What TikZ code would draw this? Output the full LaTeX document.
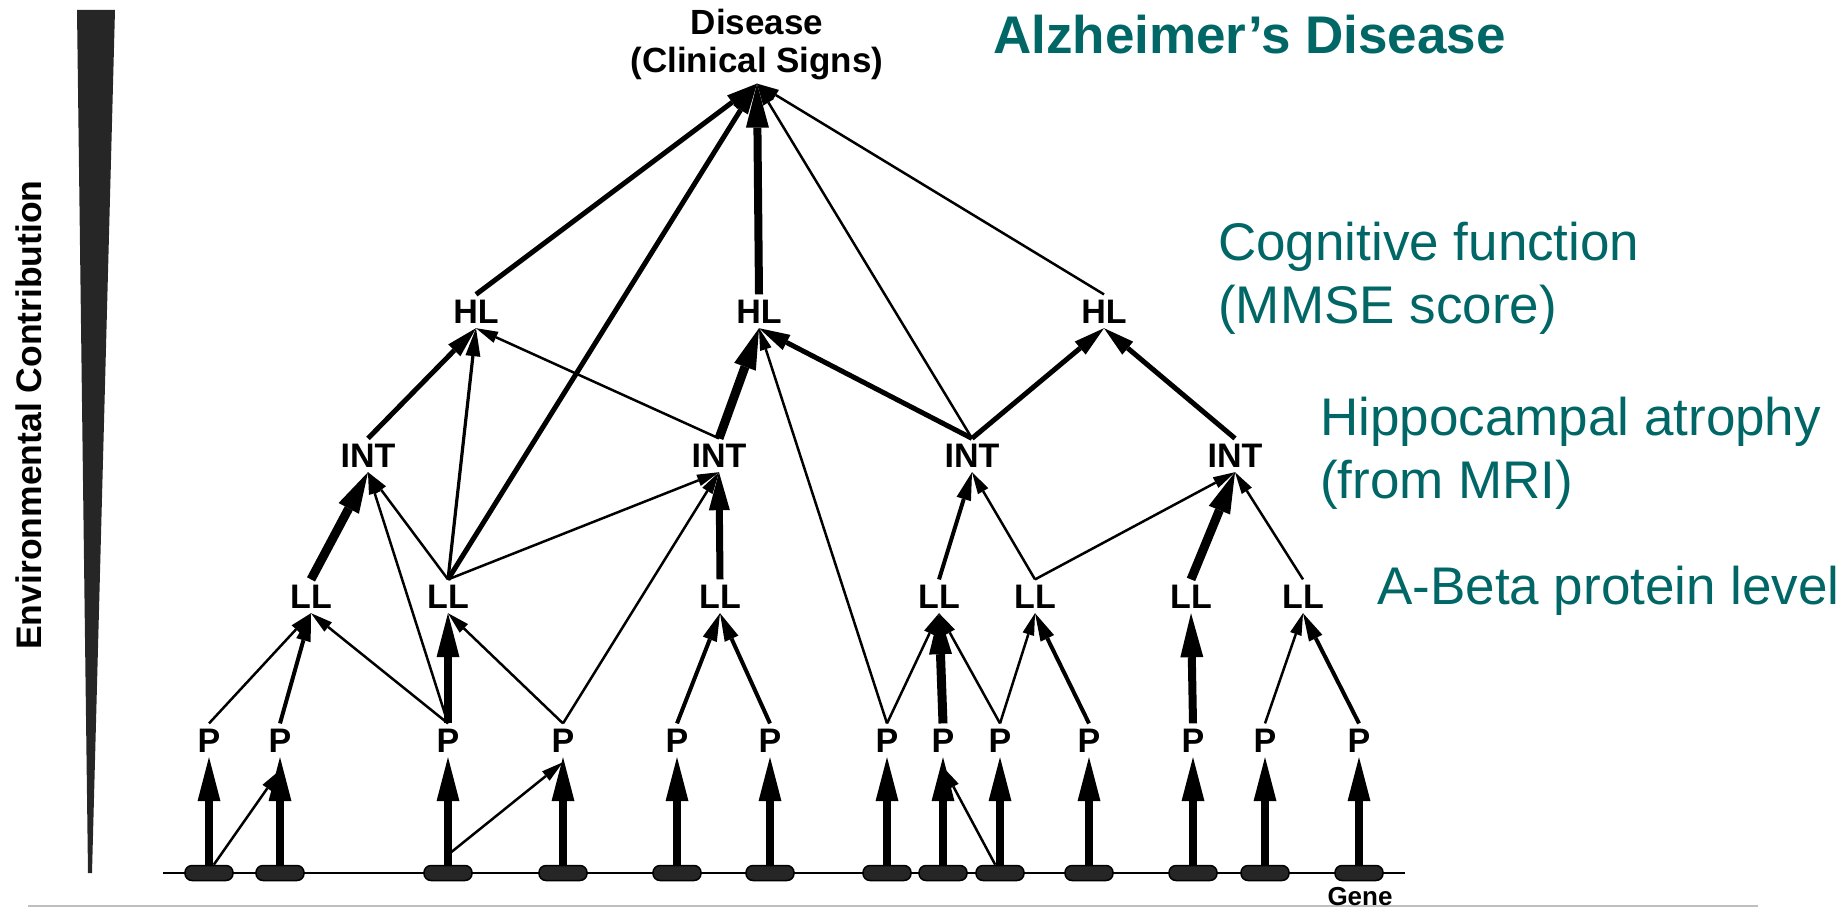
\documentclass[tikz,border=0pt]{standalone}
\usepackage{fontspec}
\setmainfont{Liberation Sans}
\usetikzlibrary{arrows.meta}
\definecolor{tealc}{RGB}{0,102,102}
\begin{document}
\begin{tikzpicture}[x=1pt,y=-1pt,
  lbl/.style={font=\fontsize{34}{40}\selectfont\bfseries, inner sep=5pt, anchor=base},
  side/.style={font=\fontsize{53}{63}\selectfont, text=tealc, anchor=base west, inner sep=0pt},
  gene/.style={rectangle, rounded corners=7pt, minimum width=48pt, minimum height=15pt, inner sep=0pt, fill=black!85, draw=black, line width=1.5pt},
  ethin/.style={line width=2.5pt, -{Triangle[length=22pt,width=12pt,line width=0pt]}},
  emed/.style={line width=4pt, -{Triangle[length=28pt,width=15pt,line width=0pt]}},
  ethick/.style={line width=5pt, -{Triangle[length=31pt,width=17pt,line width=0pt]}},
  eheavy/.style={line width=7pt, -{Triangle[length=38pt,width=21pt,line width=0pt]}},
  evheavy/.style={line width=9pt, -{Triangle[length=41pt,width=23pt,line width=0pt]}},
  egene/.style={line width=8pt, -{Triangle[length=44pt,width=23pt,line width=0pt]}}
]
\useasboundingbox (0,0) rectangle (1846,907);

% environmental contribution wedge
\fill[black!85] (77,10) -- (115,10) -- (92,873) -- (88,873) -- cycle;
\node[rotate=90, anchor=base, inner sep=0pt, font=\fontsize{35.5}{40}\selectfont\bfseries] (env) at (41,415) {Environmental Contribution};

% bottom grey rule
\coordinate (rl) at (28,906);
\coordinate (rr) at (1758,906);
\draw[line width=2pt, black!25] (rl) -- (rr);

% gene line
\coordinate (gl) at (163,873);
\coordinate (gr) at (1405,873);
\draw[line width=2pt] (gl) -- (gr);

% genes and P nodes
\foreach \i/\x in {1/209,2/280,3/448,4/563,5/677,6/770,7/887,8/943,9/1000,10/1089,11/1193,12/1265,13/1359}{
  \node[gene] (g\i) at (\x,873) {};
  \node[lbl] (p\i) at (\x,752) {P};
}
\node[anchor=base, inner sep=0pt, font=\fontsize{26}{30}\selectfont\bfseries] (genelbl) at (1360,905) {Gene};

% LL nodes
\node[lbl] (ll1) at (311,608) {LL};
\node[lbl] (ll2) at (448,608) {LL};
\node[lbl] (ll3) at (720,608) {LL};
\node[lbl] (ll4) at (939,608) {LL};
\node[lbl] (ll5) at (1035,608) {LL};
\node[lbl] (ll6) at (1191,608) {LL};
\node[lbl] (ll7) at (1303,608) {LL};

% INT nodes
\node[lbl] (int1) at (368,467) {INT};
\node[lbl] (int2) at (719,467) {INT};
\node[lbl] (int3) at (972,467) {INT};
\node[lbl] (int4) at (1235,467) {INT};

% HL nodes
\node[lbl] (hl1) at (476,323) {HL};
\node[lbl] (hl2) at (759,323) {HL};
\node[lbl] (hl3) at (1104,323) {HL};

% Disease
\node[anchor=base, inner sep=0pt, font=\fontsize{35}{40}\selectfont\bfseries] (dis) at (757,35) {Disease};
\node[anchor=base, inner sep=3pt, font=\fontsize{35}{40}\selectfont\bfseries] (dis2) at (757,73) {(Clinical Signs)};

% title and level labels
\node[side, font=\fontsize{53}{63}\selectfont\bfseries] (title) at (993,53) {Alzheimer’s Disease};
\node[side] (cog1) at (1218,260) {Cognitive function};
\node[side] (cog2) at (1218,323) {(MMSE score)};
\node[side] (hip1) at (1320,435) {Hippocampal atrophy};
\node[side] (hip2) at (1320,498) {(from MRI)};
\node[side] (abeta) at (1377,604) {A-Beta protein level};

% gene -> P
\foreach \i in {1,...,13}{
  \draw[egene] (g\i.north) -- (p\i.south);
}
\draw[ethin] (g1.60) -- ([yshift=-13pt]p2.south);
\draw[ethin] ([yshift=10pt]g3.north) -- ([yshift=-5pt]p4.south);
\draw[ethin] (g9.120) -- ([yshift=-10pt]p8.south);

% P -> LL / higher
\draw[ethin] (p1.north) -- (ll1.south);
\draw[emed] (p2.north) -- (ll1.south);
\draw[ethin] (p3.north) -- (ll1.south);
\draw[egene] (p3.north) -- (ll2.south);
\draw[ethin] (p3.north) -- (int1.south);
\draw[ethin] (p4.north) -- (ll2.south);
\draw[ethin] (p4.north) -- (int2.south);
\draw[emed] (p5.north) -- (ll3.south);
\draw[emed] (p6.north) -- (ll3.south);
\draw[ethin] (p7.north) -- (ll4.south);
\draw[ethin] (p7.north) -- (hl2.south);
\draw[evheavy] (p8.north) -- (ll4.south);
\draw[ethin] (p9.north) -- (ll4.south);
\draw[ethin] (p9.north) -- (ll5.south);
\draw[emed] (p10.north) -- (ll5.south);
\draw[egene] (p11.north) -- (ll6.south);
\draw[ethin] (p12.north) -- (ll7.south);
\draw[emed] (p13.north) -- (ll7.south);

% LL -> INT / higher
\draw[evheavy] (ll1.north) -- (int1.south);
\draw[ethin] (ll2.north) -- (int1.south);
\draw[ethin] (ll2.north) -- (int2.south);
\draw[line width=3.2pt, -{Triangle[length=28pt,width=15pt,line width=0pt]}] (ll2.north) -- (hl1.south);
\draw[ethick] (ll2.north) -- (dis2.south);
\draw[eheavy] (ll3.north) -- (int2.south);
\draw[emed] (ll4.north) -- (int3.south);
\draw[ethin] (ll5.north) -- (int3.south);
\draw[ethin] (ll5.north) -- (int4.south);
\draw[evheavy] (ll6.north) -- (int4.south);
\draw[ethin] (ll7.north) -- (int4.south);

% INT -> HL / Disease
\draw[ethick] (int1.north) -- (hl1.south);
\draw[ethin] (int2.north) -- (hl1.south);
\draw[evheavy] (int2.north) -- (hl2.south);
\draw[ethick] (int3.north) -- (hl2.south);
\draw[ethick] (int3.north) -- (hl3.south);
\draw[ethin] (int3.north) -- (dis2.south);
\draw[ethick] (int4.north) -- (hl3.south);

% HL -> Disease
\draw[ethick] (hl1.north) -- (dis2.south);
\draw[egene] (hl2.north) -- (dis2.south);
\draw[ethin] (hl3.north) -- (dis2.south);
\end{tikzpicture}
\end{document}
